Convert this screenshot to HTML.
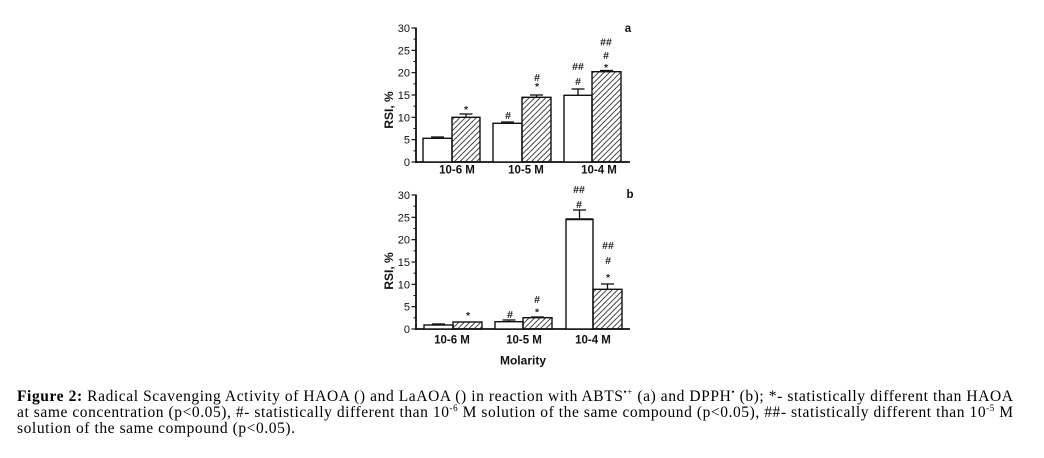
<!DOCTYPE html>
<html>
<head>
<meta charset="utf-8">
<style>
  html,body{margin:0;padding:0;background:#fff;}
  svg{display:block;}
  .tk{font-family:"Liberation Sans",Arial,sans-serif;font-size:11px;fill:#111;}
  .xl{font-family:"Liberation Sans",Arial,sans-serif;font-size:11.5px;font-weight:bold;fill:#111;}
  .an{font-family:"Liberation Sans",Arial,sans-serif;font-size:10.5px;font-weight:bold;fill:#222;}
  .ttl{font-family:"Liberation Sans",Arial,sans-serif;font-size:12px;font-weight:bold;fill:#111;}
  .cap{font-family:"Liberation Serif","Times New Roman",serif;font-size:15.5px;fill:#000;}
</style>
</head>
<body>
<svg width="1044" height="458" viewBox="0 0 1044 458" xmlns="http://www.w3.org/2000/svg">
  <defs>
    <pattern id="h" patternUnits="userSpaceOnUse" width="5.5" height="5.5">
      <line x1="-1" y1="6.5" x2="6.5" y2="-1" stroke="#333" stroke-width="0.9"/>
      <line x1="-3" y1="3" x2="3" y2="-3" stroke="#333" stroke-width="0.9"/>
      <line x1="2.5" y1="8.5" x2="8.5" y2="2.5" stroke="#333" stroke-width="0.9"/>
    </pattern>
  </defs>
  <rect width="1044" height="458" fill="#fff"/>

  <!-- ================= Chart a ================= -->
  <g stroke="#111" fill="none">
    <line x1="416" y1="27.5" x2="416" y2="163" stroke-width="1.8"/>
    <line x1="415" y1="162" x2="630" y2="162" stroke-width="1.8"/>
    <g stroke-width="1.2">
      <line x1="411.5" y1="162" x2="416" y2="162"/>
      <line x1="411.5" y1="139.67" x2="416" y2="139.67"/>
      <line x1="411.5" y1="117.33" x2="416" y2="117.33"/>
      <line x1="411.5" y1="95" x2="416" y2="95"/>
      <line x1="411.5" y1="72.67" x2="416" y2="72.67"/>
      <line x1="411.5" y1="50.33" x2="416" y2="50.33"/>
      <line x1="411.5" y1="28" x2="416" y2="28"/>
    </g>
    <g stroke-width="1">
      <line x1="413.5" y1="150.83" x2="416" y2="150.83"/>
      <line x1="413.5" y1="128.5" x2="416" y2="128.5"/>
      <line x1="413.5" y1="106.17" x2="416" y2="106.17"/>
      <line x1="413.5" y1="83.83" x2="416" y2="83.83"/>
      <line x1="413.5" y1="61.5" x2="416" y2="61.5"/>
      <line x1="413.5" y1="39.17" x2="416" y2="39.17"/>
    </g>
  </g>
  <g class="tk" text-anchor="end">
    <text x="410" y="166">0</text>
    <text x="410" y="143.7">5</text>
    <text x="410" y="121.3">10</text>
    <text x="410" y="99">15</text>
    <text x="410" y="76.7">20</text>
    <text x="410" y="54.3">25</text>
    <text x="410" y="32">30</text>
  </g>
  <text class="ttl" transform="translate(393,110) rotate(-90)" text-anchor="middle">RSI, %</text>
  <text class="xl" x="628" y="32" text-anchor="middle">a</text>

  <g stroke="#111" stroke-width="1.3" fill="none">
    <line x1="437.5" y1="138" x2="437.5" y2="137"/><line x1="431" y1="137" x2="444" y2="137"/>
    <line x1="466" y1="117" x2="466" y2="114"/><line x1="459.5" y1="114" x2="472.5" y2="114"/>
    <line x1="507.5" y1="123" x2="507.5" y2="122"/><line x1="501" y1="122" x2="514" y2="122"/>
    <line x1="536.5" y1="97" x2="536.5" y2="95"/><line x1="530" y1="95" x2="543" y2="95"/>
    <line x1="578" y1="95" x2="578" y2="89"/><line x1="571.5" y1="89" x2="584.5" y2="89"/>
    <line x1="606.5" y1="71.5" x2="606.5" y2="70.5"/><line x1="600" y1="70.5" x2="613" y2="70.5"/>
  </g>
  <g stroke="#111" stroke-width="1.4">
    <rect x="423" y="138.3" width="29" height="23.7" fill="#fff"/>
    <rect x="452" y="117.3" width="28" height="44.7" fill="url(#h)"/>
    <rect x="493" y="123.3" width="29" height="38.7" fill="#fff"/>
    <rect x="522" y="97.3" width="29" height="64.7" fill="url(#h)"/>
    <rect x="564" y="95.3" width="28" height="66.7" fill="#fff"/>
    <rect x="592" y="71.7" width="29" height="90.3" fill="url(#h)"/>
  </g>
  <g class="an" text-anchor="middle">
    <text x="466" y="113">*</text>
    <text x="508" y="119">#</text>
    <text x="537" y="81">#</text>
    <text x="537" y="90">*</text>
    <text x="578" y="70">##</text>
    <text x="578" y="85">#</text>
    <text x="606" y="45.5">##</text>
    <text x="606" y="59">#</text>
    <text x="606" y="71">*</text>
  </g>
  <g class="xl" text-anchor="middle">
    <text x="457" y="173.5">10-6 M</text>
    <text x="526" y="173.5">10-5 M</text>
    <text x="599" y="173.5">10-4 M</text>
  </g>

  <!-- ================= Chart b ================= -->
  <g stroke="#111" fill="none">
    <line x1="416" y1="194.5" x2="416" y2="330" stroke-width="1.8"/>
    <line x1="415" y1="329" x2="630" y2="329" stroke-width="1.8"/>
    <g stroke-width="1.2">
      <line x1="411.5" y1="329" x2="416" y2="329"/>
      <line x1="411.5" y1="306.67" x2="416" y2="306.67"/>
      <line x1="411.5" y1="284.33" x2="416" y2="284.33"/>
      <line x1="411.5" y1="262" x2="416" y2="262"/>
      <line x1="411.5" y1="239.67" x2="416" y2="239.67"/>
      <line x1="411.5" y1="217.33" x2="416" y2="217.33"/>
      <line x1="411.5" y1="195" x2="416" y2="195"/>
    </g>
    <g stroke-width="1">
      <line x1="413.5" y1="317.83" x2="416" y2="317.83"/>
      <line x1="413.5" y1="295.5" x2="416" y2="295.5"/>
      <line x1="413.5" y1="273.17" x2="416" y2="273.17"/>
      <line x1="413.5" y1="250.83" x2="416" y2="250.83"/>
      <line x1="413.5" y1="228.5" x2="416" y2="228.5"/>
      <line x1="413.5" y1="206.17" x2="416" y2="206.17"/>
    </g>
  </g>
  <g class="tk" text-anchor="end">
    <text x="410" y="333">0</text>
    <text x="410" y="310.7">5</text>
    <text x="410" y="288.3">10</text>
    <text x="410" y="266">15</text>
    <text x="410" y="243.7">20</text>
    <text x="410" y="221.3">25</text>
    <text x="410" y="199">30</text>
  </g>
  <text class="ttl" transform="translate(393,271) rotate(-90)" text-anchor="middle">RSI, %</text>
  <text class="xl" x="630" y="198" text-anchor="middle">b</text>

  <g stroke="#111" stroke-width="1.3" fill="none">
    <line x1="438.5" y1="325" x2="438.5" y2="324"/><line x1="432" y1="324" x2="445" y2="324"/>
    <line x1="509" y1="321.5" x2="509" y2="320"/><line x1="502.5" y1="320" x2="515.5" y2="320"/>
    <line x1="537.5" y1="317.5" x2="537.5" y2="317"/><line x1="531" y1="317" x2="544" y2="317"/>
    <line x1="579.5" y1="219" x2="579.5" y2="210"/><line x1="573" y1="210" x2="586" y2="210"/>
    <line x1="607.5" y1="289" x2="607.5" y2="284"/><line x1="601" y1="284" x2="614" y2="284"/>
  </g>
  <g stroke="#111" stroke-width="1.4">
    <rect x="424" y="325" width="29" height="4" fill="#fff"/>
    <rect x="453" y="322" width="29" height="7" fill="url(#h)"/>
    <rect x="495" y="321.7" width="28" height="7.3" fill="#fff"/>
    <rect x="523" y="317.7" width="29" height="11.3" fill="url(#h)"/>
    <rect x="566" y="219.3" width="27" height="109.7" fill="#fff"/>
    <rect x="593" y="289.3" width="29" height="39.7" fill="url(#h)"/>
  </g>
  <line x1="566" y1="219.3" x2="593" y2="219.3" stroke="#111" stroke-width="2"/>
  <g class="an" text-anchor="middle">
    <text x="468" y="319">*</text>
    <text x="510" y="318">#</text>
    <text x="537" y="303">#</text>
    <text x="537" y="315.5">*</text>
    <text x="579" y="193">##</text>
    <text x="579" y="208">#</text>
    <text x="608" y="249">##</text>
    <text x="608" y="264">#</text>
    <text x="608" y="281">*</text>
  </g>
  <g class="xl" text-anchor="middle">
    <text x="452" y="343.5">10-6 M</text>
    <text x="524" y="343.5">10-5 M</text>
    <text x="593" y="343.5">10-4 M</text>
  </g>
  <text class="ttl" x="523" y="364.5" text-anchor="middle">Molarity</text>

  <!-- ================= Caption ================= -->
  <text class="cap" font-family="Liberation Serif, serif" x="17" y="401" textLength="996" lengthAdjust="spacing"><tspan font-weight="bold">Figure 2:</tspan> Radical Scavenging Activity of HAOA () and LaAOA () in reaction with ABTS<tspan font-size="9" dy="-6">•+</tspan><tspan dy="6"> (a) and DPPH</tspan><tspan font-size="9" dy="-6">•</tspan><tspan dy="6"> (b); *- statistically different than HAOA</tspan></text>
  <text class="cap" font-family="Liberation Serif, serif" x="17" y="417" textLength="996" lengthAdjust="spacing">at same concentration (p&lt;0.05), #- statistically different than 10<tspan font-size="9" dy="-6">-6</tspan><tspan dy="6"> M solution of the same compound (p&lt;0.05), ##- statistically different than 10</tspan><tspan font-size="9" dy="-6">-5</tspan><tspan dy="6"> M</tspan></text>
  <text class="cap" font-family="Liberation Serif, serif" x="17" y="433" textLength="278" lengthAdjust="spacing">solution of the same compound (p&lt;0.05).</text>
</svg>
</body>
</html>
